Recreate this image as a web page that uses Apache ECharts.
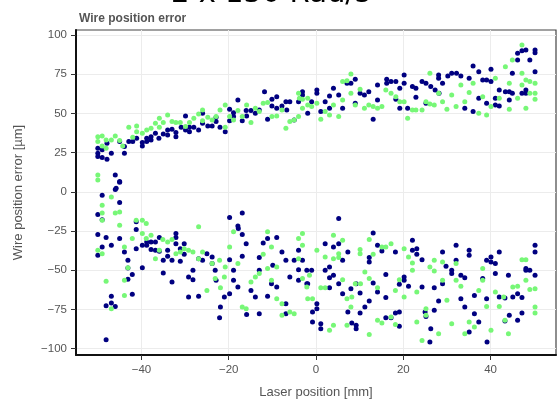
<!DOCTYPE html>
<html>
<head>
<meta charset="utf-8">
<script src="https://cdn.jsdelivr.net/npm/echarts@6/dist/echarts.min.js"></script>
<style>
  html, body { margin: 0; padding: 0; background: #fff; }
  #chart { width: 557px; height: 406px; }
</style>
</head>
<body>
<div id="chart"></div>
<script>
// tick values
var xTicks = [-40, -20, 0, 20, 40];
var yTicks = [-100, -75, -50, -25, 0, 25, 50, 75, 100];

// navy series, [laser position mm, error um]
var navyUpper = [
  [-50.0, 27.8], [-50.0, 24.6], [-50.0, 22.5], [-49.0, 26.8], [-49.0, 21.9], [-47.9, 31.0], [-47.9, 20.8],
  [-46.9, 24.6], [-46.0, 10.8], [-45.8, 2.3], [-45.0, 6.6], [-45.0, 32.1], [-43.9, 28.9], [-43.9, 24.6],
  [-42.9, 32.1], [-42.0, 32.1], [-41.1, 34.2], [-39.8, 31.4], [-39.8, 29.3], [-38.8, 34.2], [-38.8, 32.1],
  [-37.8, 35.2], [-37.8, 33.1], [-36.8, 37.4], [-36.0, 34.2], [-35.0, 36.9], [-34.0, 39.5], [-34.0, 36.3],
  [-33.0, 39.9], [-32.1, 35.2], [-32.1, 37.8], [-30.9, 41.2], [-29.9, 48.4], [-29.9, 39.5], [-29.0, 41.2],
  [-29.0, 38.4], [-28.0, 41.2], [-26.9, 39.5], [-26.0, 50.1], [-26.0, 43.7], [-24.8, 42.0], [-23.8, 42.0],
  [-22.9, 44.8], [-22.9, 47.6], [-22.0, 41.2], [-20.8, 38.4], [-19.8, 52.7], [-19.8, 45.4], [-18.9, 50.5],
  [-18.9, 48.0], [-17.9, 58.6], [-16.9, 45.4], [-16.0, 51.8], [-15.9, 48.4], [-14.9, 51.8], [-13.9, 50.1],
  [-13.0, 52.2], [-11.8, 63.9], [-11.1, 46.3], [-10.1, 54.8], [-10.1, 59.0], [-9.0, 60.7], [-9.0, 53.3],
  [-7.8, 54.8], [-6.9, 57.5], [-6.7, 52.2], [-6.0, 57.5], [-5.0, 45.9], [-4.0, 57.5], [-3.1, 63.9],
  [-3.1, 61.8], [-1.9, 50.1], [-1.0, 57.5], [0.2, 65.0], [0.2, 62.8], [1.1, 51.2], [2.1, 57.5],
  [3.1, 61.1], [3.1, 53.3], [4.0, 66.0], [5.2, 61.8], [6.1, 53.3], [7.1, 69.2], [8.0, 69.2], [9.0, 71.8],
  [9.0, 56.5], [10.1, 62.8], [11.1, 61.8], [12.1, 63.9], [13.1, 46.3], [14.1, 68.2], [14.1, 58.6],
  [16.2, 71.8], [16.2, 69.2], [17.2, 70.3], [18.3, 70.3], [18.3, 59.0], [19.2, 66.0], [19.2, 53.3],
  [20.2, 74.5], [20.2, 69.2], [21.0, 53.3], [22.1, 67.1], [22.9, 66.0], [22.9, 60.3], [24.3, 70.3],
  [25.2, 69.2], [25.2, 56.5], [26.3, 67.1], [27.3, 65.0], [28.1, 74.5], [28.1, 72.4], [28.2, 62.8],
  [29.0, 69.2], [30.2, 73.9], [31.1, 75.6], [32.2, 75.6], [33.2, 73.9], [34.1, 53.3], [35.1, 72.4],
  [36.0, 80.3], [36.0, 51.2], [37.3, 76.6], [37.3, 59.7], [38.2, 71.3], [39.1, 71.3], [39.1, 56.5],
  [40.1, 78.1], [40.1, 70.3], [41.1, 59.7], [41.1, 55.4], [42.0, 65.0], [42.0, 54.8], [43.4, 63.9],
  [44.3, 63.9], [44.3, 58.6], [45.0, 75.6], [45.0, 62.8], [46.2, 88.3], [46.2, 84.1], [47.2, 90.0],
  [47.2, 62.8], [48.1, 90.4], [48.1, 65.0], [48.1, 62.8], [49.0, 84.1], [50.2, 90.4], [50.2, 88.7],
  [50.2, 76.6]
];
var navyLower = [
  [-50.0, -14.5], [-49.0, -17.7], [-49.0, -2.1], [-50.0, -27.2], [-49.0, -35.1], [-50.0, -40.4],
  [-48.1, -29.1], [-46.9, -34.0], [-48.1, -72.6], [-46.9, -66.6], [-46.9, -70.9], [-46.0, -73.0],
  [-48.1, -94.3], [-46.0, 1.5], [-45.0, 6.2], [-45.0, -6.8], [-45.0, -29.8], [-43.9, -38.3],
  [-43.1, -43.6], [-43.1, -48.5], [-43.1, -55.7], [-42.1, -52.6], [-42.1, -65.3], [-41.2, -19.1],
  [-41.2, -24.0], [-41.2, -36.2], [-39.8, -34.0], [-39.8, -48.3], [-38.8, -31.9], [-38.8, -34.0],
  [-37.8, -31.9], [-37.8, -36.8], [-36.8, -31.9], [-36.8, -37.2], [-35.9, -29.1], [-35.9, -37.9],
  [-35.0, -43.6], [-35.0, -51.7], [-34.0, -37.2], [-34.0, -41.1], [-33.0, -43.6], [-33.0, -57.4],
  [-32.1, -26.6], [-32.1, -29.1], [-32.1, -33.0], [-31.1, -36.2], [-31.1, -44.3], [-30.2, -33.0],
  [-30.2, -39.8], [-29.2, -54.3], [-29.2, -67.0], [-28.2, -50.0], [-28.2, -56.0], [-26.9, -42.6],
  [-26.9, -66.6], [-26.0, -43.6], [-25.0, -39.4], [-23.8, -41.5], [-23.8, -45.7], [-23.1, -50.0],
  [-22.9, -56.4], [-22.1, -80.2], [-21.9, -73.4], [-21.0, -67.0], [-19.8, -16.4], [-19.8, -43.2],
  [-19.8, -64.9], [-18.9, -56.4], [-18.9, -50.0], [-17.9, -60.6], [-17.9, -21.7], [-17.8, -23.4],
  [-16.9, -13.4], [-16.9, -27.2], [-16.9, -41.1], [-16.0, -33.0], [-15.9, -78.1], [-14.9, -62.8],
  [-13.9, -67.0], [-13.0, -77.7], [-13.0, -50.0], [-13.0, -41.9], [-12.1, -32.6], [-11.1, -29.8],
  [-11.1, -66.6], [-10.2, -58.5], [-9.9, -46.8], [-9.0, -29.1], [-9.0, -60.6], [-7.8, -38.3],
  [-6.9, -43.6], [-6.9, -71.3], [-6.9, -77.7], [-6.0, -54.3], [-5.0, -43.6], [-4.0, -37.2],
  [-4.0, -49.6], [-4.0, -56.4], [-3.1, -43.6], [-2.1, -50.0], [-2.1, -58.5], [-1.9, -58.5],
  [-1.0, -50.0], [-0.8, -76.6], [-0.8, -83.0], [0.2, -71.3], [0.2, -74.5], [1.1, -84.0], [1.1, -87.2],
  [2.1, -33.0], [2.1, -50.0], [3.1, -47.9], [3.1, -54.7], [3.1, -61.1], [4.0, -35.1], [4.0, -53.2],
  [5.2, -17.0], [5.2, -33.0], [5.2, -58.5], [6.1, -43.6], [6.1, -64.9], [7.3, -38.3], [7.3, -76.6],
  [8.0, -61.7], [8.2, -83.6], [9.2, -85.1], [9.2, -87.2], [9.2, -58.5], [10.1, -64.5], [10.1, -77.2],
  [11.2, -73.4], [12.2, -44.7], [12.2, -41.9], [12.2, -69.6], [13.1, -26.2], [13.1, -58.1],
  [14.1, -34.0], [14.1, -63.8], [15.1, -37.7], [16.0, -52.6], [16.0, -67.4], [16.0, -80.2],
  [17.2, -80.2], [18.2, -38.3], [18.2, -77.2], [19.1, -76.6], [19.1, -58.9], [19.1, -85.7],
  [20.2, -54.3], [20.2, -56.4], [21.2, -60.2], [22.1, -30.9], [22.1, -37.2], [23.1, -36.2],
  [23.1, -39.8], [24.3, -43.2], [24.3, -60.6], [25.0, -76.6], [25.2, -79.4], [26.1, -95.7],
  [26.3, -87.2], [27.1, -75.5], [27.1, -61.1], [28.1, -69.6], [29.0, -38.3], [29.0, -58.5],
  [29.8, -47.4], [31.1, -50.0], [31.1, -52.1], [32.1, -34.0], [32.1, -43.6], [33.2, -68.1],
  [33.2, -53.2], [34.1, -54.7], [34.1, -73.4], [35.1, -37.2], [35.1, -40.4], [35.1, -89.4],
  [36.3, -66.0], [36.3, -77.7], [37.3, -83.0], [38.2, -55.3], [39.1, -43.6], [39.1, -68.1],
  [39.2, -95.7], [40.1, -44.7], [40.1, -41.5], [41.1, -45.7], [41.1, -52.1], [42.0, -38.3],
  [42.0, -67.0], [43.3, -67.7], [43.3, -82.3], [44.1, -53.2], [44.3, -78.7], [45.1, -67.0],
  [46.2, -81.9], [46.2, -64.9], [47.2, -77.2], [47.2, -67.4], [48.1, -50.0], [48.1, -48.9],
  [49.0, -50.0], [50.2, -34.0], [50.2, -38.3], [50.2, -53.2]
];

// light green series
var greenUpper = [
  [-50.0, 35.2], [-50.0, 32.1], [-49.0, 35.7], [-49.0, 29.3], [-48.1, 33.1], [-48.1, 27.8], [-46.9, 33.1],
  [-46.0, 35.7], [-45.0, 32.7], [-44.3, 29.3], [-42.9, 41.2], [-42.0, 34.8], [-41.1, 42.0], [-41.1, 38.4],
  [-39.8, 37.4], [-38.8, 39.5], [-37.8, 40.6], [-36.8, 43.7], [-35.9, 46.9], [-35.9, 41.2], [-35.0, 44.2],
  [-34.0, 49.0], [-33.0, 44.8], [-32.1, 44.2], [-31.1, 44.2], [-29.9, 41.6], [-29.0, 44.2], [-28.0, 46.9],
  [-26.9, 49.7], [-26.0, 52.2], [-26.0, 45.4], [-24.8, 47.6], [-23.8, 45.9], [-22.9, 48.0], [-22.0, 52.2],
  [-20.8, 55.4], [-20.8, 41.2], [-19.8, 48.0], [-18.9, 45.9], [-17.9, 51.8], [-16.9, 48.0], [-15.9, 55.4],
  [-14.9, 44.2], [-13.9, 53.3], [-13.0, 51.2], [-12.1, 56.5], [-11.1, 56.9], [-10.1, 48.0], [-9.0, 48.4],
  [-7.8, 52.2], [-6.9, 40.6], [-6.0, 44.8], [-5.0, 45.9], [-4.0, 62.8], [-4.0, 48.0], [-3.8, 59.7],
  [-3.1, 59.0], [-3.1, 53.3], [-1.9, 59.7], [-1.9, 55.4], [-1.0, 54.4], [0.2, 56.5], [1.1, 46.3],
  [2.1, 51.2], [3.1, 49.0], [4.0, 55.4], [5.2, 48.0], [6.1, 70.3], [6.1, 58.6], [7.1, 70.9], [8.0, 75.2],
  [8.0, 62.8], [9.0, 55.4], [10.1, 65.4], [11.1, 53.3], [12.1, 55.4], [13.1, 54.4], [14.1, 53.3],
  [15.1, 54.4], [16.0, 65.0], [17.2, 62.8], [18.3, 60.7], [19.2, 57.5], [20.2, 57.5], [21.0, 46.9],
  [22.1, 52.2], [22.9, 52.2], [24.3, 52.2], [25.2, 57.5], [26.1, 75.6], [26.1, 56.0], [27.1, 55.4],
  [28.1, 62.8], [29.0, 57.5], [30.0, 52.7], [31.1, 61.8], [32.1, 54.4], [33.2, 68.2], [34.1, 57.5],
  [35.1, 63.3], [36.0, 69.2], [37.3, 50.1], [38.2, 60.7], [39.1, 49.0], [40.1, 54.4], [41.1, 72.4],
  [42.0, 59.7], [43.4, 79.8], [44.3, 69.2], [44.3, 52.7], [45.0, 84.1], [46.2, 59.7], [47.2, 93.6],
  [47.2, 75.6], [47.2, 68.2], [48.1, 71.3], [48.1, 53.3], [49.0, 70.3], [49.0, 62.8], [50.2, 69.2],
  [50.2, 62.8], [50.2, 59.0]
];
var greenLower = [
  [-50.0, 10.8], [-50.0, 7.6], [-49.0, -13.4], [-49.0, -8.5], [-49.0, -18.1], [-50.0, -37.2],
  [-49.0, -39.4], [-48.1, -57.0], [-46.9, -74.5], [-46.9, -3.2], [-46.0, -13.4], [-45.0, -12.8],
  [-45.0, -21.3], [-43.9, -35.1], [-43.9, -56.4], [-43.9, -66.0], [-43.1, -48.3], [-42.1, -29.8],
  [-41.2, -18.1], [-39.8, -18.1], [-39.8, -26.6], [-38.9, -20.2], [-38.9, -29.8], [-37.8, -27.7],
  [-36.8, -42.6], [-35.9, -37.2], [-35.1, -30.4], [-34.0, -31.9], [-33.0, -30.4], [-32.1, -39.4],
  [-31.1, -38.3], [-30.2, -36.2], [-29.2, -37.2], [-28.2, -38.3], [-26.9, -22.3], [-26.9, -42.6],
  [-26.0, -38.3], [-25.0, -62.8], [-23.8, -45.7], [-23.1, -55.3], [-22.1, -43.6], [-21.9, -61.1],
  [-21.0, -54.3], [-20.8, -47.9], [-19.8, -35.1], [-18.9, -25.5], [-17.9, -45.7], [-16.9, -73.4],
  [-16.0, -74.5], [-14.9, -57.4], [-13.9, -54.3], [-13.0, -52.1], [-12.1, -39.8], [-11.1, -48.9],
  [-11.1, -25.5], [-10.2, -35.1], [-10.2, -56.4], [-9.0, -68.1], [-9.0, -47.9], [-7.8, -71.3],
  [-7.8, -78.7], [-6.0, -76.6], [-5.0, -77.7], [-4.0, -29.8], [-4.0, -42.6], [-3.1, -34.0],
  [-3.1, -26.6], [-3.1, -55.3], [-2.1, -60.6], [-1.9, -68.1], [-1.5, -53.2], [-0.8, -68.1],
  [0.2, -37.2], [1.1, -61.1], [2.1, -61.1], [2.1, -41.5], [3.1, -88.3], [4.0, -27.7], [4.0, -42.6],
  [4.0, -85.1], [5.2, -39.4], [5.2, -41.9], [6.1, -56.0], [6.1, -30.9], [7.1, -68.1], [7.1, -85.1],
  [8.0, -73.4], [8.2, -67.0], [9.0, -58.5], [10.1, -36.8], [10.1, -39.4], [10.2, -58.5], [11.2, -51.1],
  [12.2, -55.3], [12.2, -30.4], [12.2, -90.9], [13.1, -39.8], [14.1, -61.1], [14.1, -81.9],
  [15.1, -83.6], [15.1, -35.1], [16.0, -35.1], [17.2, -33.0], [17.2, -79.8], [18.2, -62.8],
  [18.2, -84.5], [19.1, -56.0], [20.2, -67.0], [20.2, -36.2], [21.2, -41.5], [22.1, -50.0],
  [22.1, -45.3], [23.1, -63.8], [23.1, -83.0], [24.3, -94.7], [25.2, -74.5], [25.2, -78.7],
  [26.1, -47.9], [27.1, -50.4], [27.1, -43.6], [28.1, -90.4], [29.0, -44.7], [29.0, -56.4],
  [30.0, -69.1], [31.1, -84.0], [32.1, -56.4], [32.1, -45.7], [33.2, -60.2], [34.1, -90.4],
  [35.1, -83.0], [36.3, -86.2], [37.3, -62.8], [38.2, -48.9], [38.2, -56.4], [39.1, -73.0],
  [40.1, -88.3], [41.1, -63.8], [42.0, -73.0], [43.0, -67.0], [43.3, -81.9], [44.1, -90.4],
  [45.1, -60.6], [46.2, -60.2], [47.2, -43.2], [48.1, -43.2], [48.1, -56.4], [49.0, -62.3],
  [50.2, -61.7], [50.2, -73.4], [50.2, -77.2]
];

var navyPts = navyUpper.concat(navyLower);
var greenPts = greenUpper.concat(greenLower);

function minusSign(v) {
    return String(v).replace('-', '\u2212');
}

var chart = echarts.init(document.getElementById('chart'));
var option = {
    animation: false,
    backgroundColor: '#fff',
    title: [
        {
            text: '2 x 150 Rad/s',
            left: 166, top: -25,
            textStyle: { fontFamily: 'DejaVu Sans', fontSize: 29, fontWeight: 'normal', color: '#000' }
        },
        {
            text: 'Wire position error',
            left: 74, top: 8,
            textStyle: { fontFamily: 'Liberation Sans', fontSize: 12, fontWeight: 'bold', color: '#555' }
        }
    ],
    grid: {
        left: 76, right: 1, top: 30, bottom: 51,
        show: true, borderColor: '#444', borderWidth: 1.2, backgroundColor: 'transparent'
    },
    xAxis: {
        type: 'value',
        min: -55, max: 55,
        name: 'Laser position [mm]',
        nameLocation: 'middle', nameGap: 31,
        nameTextStyle: { fontFamily: 'Liberation Sans', fontSize: 13, color: '#555' },
        axisLine: { show: true, onZero: false, lineStyle: { color: '#111', width: 2 } },
        axisTick: { show: true, length: 5, lineStyle: { color: '#333' }, customValues: xTicks },
        axisLabel: {
            customValues: xTicks, margin: 9,
            fontFamily: 'Liberation Sans', fontSize: 11.5, color: '#555',
            formatter: minusSign
        },
        splitLine: { show: true, lineStyle: { color: '#ececec', width: 1 } }
    },
    yAxis: {
        type: 'value',
        min: -104, max: 103.2,
        name: 'Wire position error [\u00b5m]',
        nameLocation: 'middle', nameGap: 51,
        nameTextStyle: { fontFamily: 'Liberation Sans', fontSize: 13, color: '#555' },
        axisLine: { show: true, onZero: false, lineStyle: { color: '#111', width: 2 } },
        axisTick: { show: true, length: 5, lineStyle: { color: '#333' }, customValues: yTicks },
        axisLabel: {
            customValues: yTicks, margin: 9,
            fontFamily: 'Liberation Sans', fontSize: 11.5, color: '#555',
            formatter: minusSign
        },
        splitLine: { show: true, lineStyle: { color: '#ececec', width: 1 } }
    },
    series: [
        {
            name: 'navy', type: 'scatter', data: navyPts, symbolSize: 5,
            itemStyle: { color: '#000080', opacity: 1 }
        },
        {
            name: 'green', type: 'scatter', data: greenPts, symbolSize: 5,
            itemStyle: { color: '#77f777', opacity: 1 }
        }
    ]
};
chart.setOption(option);
</script>
</body>
</html>
